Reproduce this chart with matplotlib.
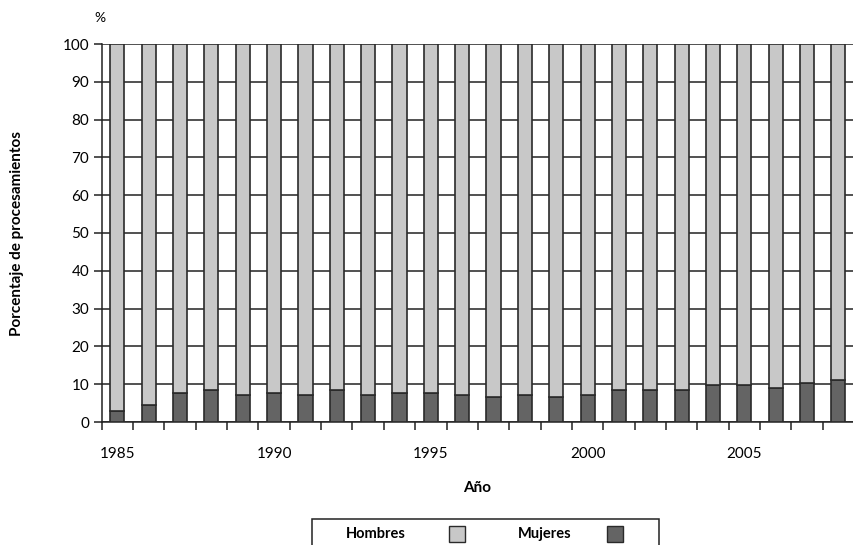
import numpy as np
import matplotlib.pyplot as plt
from matplotlib.patches import Rectangle

# Porcentaje de procesamientos por sexo, 1985-2008
years = list(range(1985, 2009))
mujeres = [3.0, 4.6, 7.7, 8.4, 7.1, 7.7, 7.1, 8.5, 7.1, 7.7, 7.7, 7.1,
           6.5, 7.1, 6.5, 7.1, 8.5, 8.5, 8.5, 9.8, 9.7, 8.9, 10.3, 11.1]
hombres = [100 - m for m in mujeres]
year_labels = ['1985', '1990', '1995', '2000', '2005']
series_names = ['Hombres', 'Mujeres']

light = '#c8c8c8'
dark = '#646464'
edge = '#2a2a2a'

plt.rcParams['font.family'] = ['Lato', 'DejaVu Sans']

W, H = 854, 545
fig = plt.figure(figsize=(W / 100, H / 100), dpi=100)
ax = fig.add_axes([101.7 / W, 1 - 422 / H, 1 - 101.7 / W, (422 - 44) / H])

x = np.arange(len(years))
ax.bar(x, mujeres, width=0.45, color=dark, edgecolor=edge, linewidth=1.2, zorder=3)
ax.bar(x, hombres, bottom=mujeres, width=0.45, color=light, edgecolor=edge,
       linewidth=1.2, zorder=3)

ax.set_xlim(-0.5, -0.5 + (W - 101.7) / 31.6)
ax.set_ylim(0, 100)
ax.set_yticks(range(0, 101, 10))
ax.yaxis.grid(True, color='#222222', linewidth=1.1, zorder=0)
ax.set_axisbelow(True)

# ticks on the category boundaries, labels in the middle every 5 years
ax.set_xticks(np.arange(-0.5, len(years), 1))
ax.set_xticklabels([])
ax.set_xticks([years.index(int(y)) for y in year_labels], minor=True)
ax.set_xticklabels(year_labels, minor=True, fontsize=11)
ax.tick_params(axis='x', which='major', length=6, width=1.1, color='#222222')
ax.tick_params(axis='x', which='minor', length=0, pad=18)
ax.tick_params(axis='y', length=6, width=1.1, color='#222222', labelsize=11, pad=3)

for side in ['top', 'right']:
    ax.spines[side].set_visible(False)
for side in ['left', 'bottom']:
    ax.spines[side].set_linewidth(1.1)
    ax.spines[side].set_color('#222222')

fig.text(100 / W, 1 - 18 / H, '%', fontsize=10, ha='center', va='center')
fig.text(477 / W, 1 - 488 / H, 'Año', fontsize=11, fontweight='bold',
         ha='center', va='center')
fig.text(17 / W, 1 - 233 / H, 'Porcentaje de procesamientos', fontsize=11,
         fontweight='bold', rotation=90, ha='center', va='center')

# legend box, cut off by the bottom of the image as in the original
fig.patches.append(Rectangle((312 / W, 1 - 560 / H), 347 / W, 41 / H,
                             transform=fig.transFigure, facecolor='white',
                             edgecolor='#222222', linewidth=1.1))
for name, color, tx, px in zip(series_names, [light, dark], [376, 545], [457, 615]):
    fig.text(tx / W, 1 - 534 / H, name, fontsize=10.5, fontweight='bold',
             ha='center', va='center')
    fig.patches.append(Rectangle(((px - 8) / W, 1 - 542 / H), 16 / W, 16 / H,
                                 transform=fig.transFigure, facecolor=color,
                                 edgecolor=edge, linewidth=1.0))

fig.savefig('out.png', dpi=100)
